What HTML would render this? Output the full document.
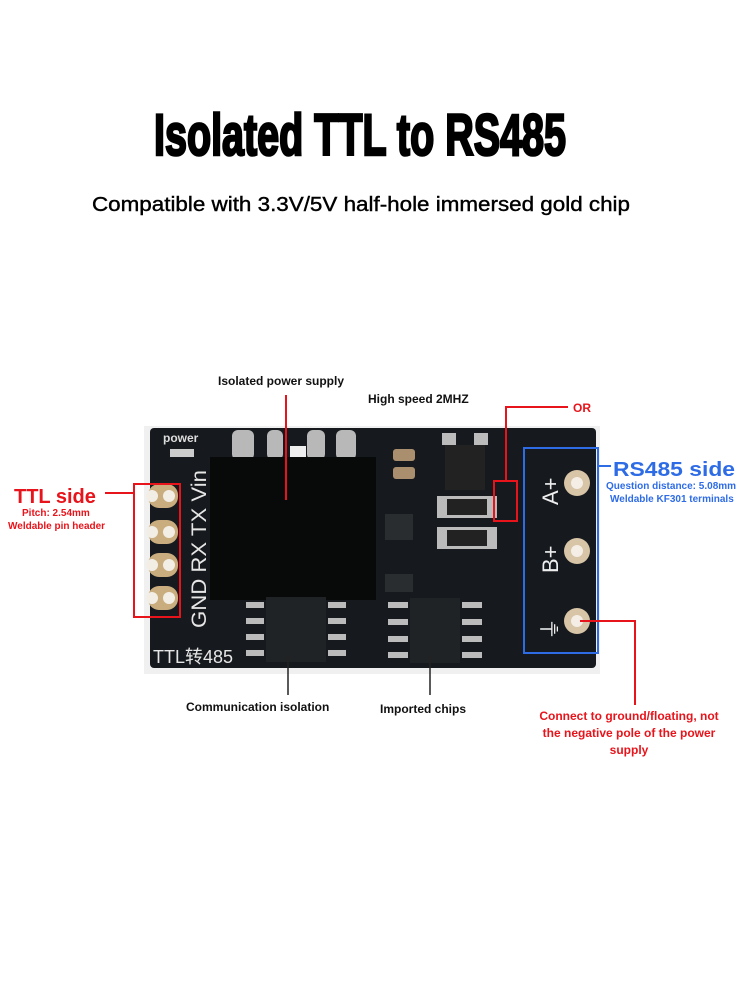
<!DOCTYPE html>
<html><head><meta charset="utf-8"><style>
html,body{margin:0;padding:0;background:#fff;width:750px;height:1000px;overflow:hidden}
svg{display:block}
text{font-family:"Liberation Sans",sans-serif}
</style></head><body>
<svg width="750" height="1000" viewBox="0 0 750 1000">
<rect width="750" height="1000" fill="#fff"/>
<text x="154" y="155" font-size="58" font-weight="bold" stroke="#000" stroke-width="2.6" textLength="412" lengthAdjust="spacingAndGlyphs">Isolated TTL to RS485</text>
<text x="92" y="211" font-size="20" stroke="#000" stroke-width="0.4" textLength="538" lengthAdjust="spacingAndGlyphs">Compatible with 3.3V/5V half-hole immersed gold chip</text>

<!-- board -->
<rect x="144" y="426" width="456" height="248" fill="#f0f0f0"/>
<rect x="150" y="428" width="446" height="240" rx="4" fill="#16191d"/>
<!-- ttl pads -->
<g fill="#c9ad7e">
<rect x="148" y="484" width="30" height="24" rx="11"/><rect x="148" y="520" width="30" height="24" rx="11"/>
<rect x="148" y="553" width="30" height="24" rx="11"/><rect x="148" y="586" width="30" height="24" rx="11"/>
</g>
<g fill="#f2eee6">
<circle cx="152" cy="496" r="6"/><circle cx="169" cy="496" r="6"/><circle cx="152" cy="532" r="6"/><circle cx="169" cy="532" r="6"/>
<circle cx="152" cy="565" r="6"/><circle cx="169" cy="565" r="6"/><circle cx="152" cy="598" r="6"/><circle cx="169" cy="598" r="6"/>
</g>
<text x="163" y="442" font-size="12" font-weight="bold" fill="#ddd">power</text>
<rect x="170" y="449" width="24" height="8" fill="#ccc"/>
<text transform="translate(206,628) rotate(-90)" font-size="21" fill="#e6e6e6" textLength="158" lengthAdjust="spacingAndGlyphs">GND RX TX Vin</text>
<text x="153" y="663" font-size="18" fill="#e6e6e6" font-family="'Liberation Sans','Noto Sans CJK SC',sans-serif">TTL转485</text>
<!-- transformer -->
<g fill="#b8b8b8"><rect x="232" y="430" width="22" height="30" rx="6"/><rect x="267" y="430" width="16" height="30" rx="6"/><rect x="307" y="430" width="18" height="30" rx="6"/><rect x="336" y="430" width="20" height="30" rx="6"/></g>
<rect x="290" y="446" width="16" height="20" fill="#eee"/>
<rect x="210" y="457" width="166" height="143" fill="#080909"/>
<!-- chips -->
<rect x="266" y="597" width="60" height="65" fill="#202326"/>
<rect x="410" y="598" width="50" height="65" fill="#202326"/>
<g fill="#bbb">
<rect x="246" y="602" width="18" height="6"/><rect x="246" y="618" width="18" height="6"/><rect x="246" y="634" width="18" height="6"/><rect x="246" y="650" width="18" height="6"/>
<rect x="328" y="602" width="18" height="6"/><rect x="328" y="618" width="18" height="6"/><rect x="328" y="634" width="18" height="6"/><rect x="328" y="650" width="18" height="6"/>
<rect x="388" y="602" width="20" height="6"/><rect x="388" y="619" width="20" height="6"/><rect x="388" y="636" width="20" height="6"/><rect x="388" y="652" width="20" height="6"/>
<rect x="462" y="602" width="20" height="6"/><rect x="462" y="619" width="20" height="6"/><rect x="462" y="636" width="20" height="6"/><rect x="462" y="652" width="20" height="6"/>
<rect x="442" y="433" width="14" height="12"/><rect x="474" y="433" width="14" height="12"/>
<rect x="437" y="496" width="60" height="22"/><rect x="437" y="527" width="60" height="22"/>
</g>
<g fill="#222"><rect x="445" y="445" width="40" height="45"/><rect x="447" y="499" width="40" height="16"/><rect x="447" y="530" width="40" height="16"/></g>
<g fill="#a98f6e"><rect x="393" y="449" width="22" height="12" rx="3"/><rect x="393" y="467" width="22" height="12" rx="3"/></g>
<rect x="385" y="514" width="28" height="26" fill="#2a2d30"/>
<rect x="385" y="574" width="28" height="18" fill="#2a2d30"/>
<!-- rs485 terminals -->
<g fill="#d8c4a6"><circle cx="577" cy="483" r="13"/><circle cx="577" cy="551" r="13"/><circle cx="577" cy="621" r="13"/></g>
<g fill="#f4eee6"><circle cx="577" cy="483" r="6"/><circle cx="577" cy="551" r="6"/><circle cx="577" cy="621" r="6"/></g>
<text transform="translate(558,505) rotate(-90)" font-size="22" fill="#eee">A+</text>
<text transform="translate(558,573) rotate(-90)" font-size="22" fill="#eee">B+</text>
<text transform="translate(558,640) rotate(-90)" font-size="22" fill="#eee">⏚</text>

<!-- annotations -->
<g fill="none" stroke-width="2">
<rect x="134" y="484" width="46" height="133" stroke="#e8141b"/>
<line x1="105" y1="493" x2="134" y2="493" stroke="#e8141b"/>
<rect x="524" y="448" width="74" height="205" stroke="#2e6ce6"/>
<line x1="598" y1="466" x2="611" y2="466" stroke="#2e6ce6"/>
<rect x="494" y="481" width="23" height="40" stroke="#e8141b"/>
<polyline points="506,481 506,407 568,407" stroke="#e8141b"/>
<line x1="286" y1="395" x2="286" y2="500" stroke="#e8141b"/>
<line x1="288" y1="655" x2="288" y2="695" stroke="#222" stroke-width="1.5"/>
<line x1="430" y1="655" x2="430" y2="695" stroke="#222" stroke-width="1.5"/>
<polyline points="580,621 635,621 635,705" stroke="#e8141b"/>
</g>
<text x="14" y="503" font-size="20" font-weight="bold" fill="#e8141b">TTL side</text>
<text x="22" y="516" font-size="10" font-weight="bold" fill="#e8141b">Pitch: 2.54mm</text>
<text x="8" y="529" font-size="10" font-weight="bold" fill="#e8141b">Weldable pin header</text>
<text x="613" y="476" font-size="20" font-weight="bold" fill="#2e6ce6" textLength="122" lengthAdjust="spacingAndGlyphs">RS485 side</text>
<text x="606" y="489" font-size="10" font-weight="bold" fill="#2e6ce6">Question distance: 5.08mm</text>
<text x="610" y="502" font-size="10" font-weight="bold" fill="#2e6ce6">Weldable KF301 terminals</text>
<text x="573" y="412" font-size="12" font-weight="bold" fill="#e8141b">OR</text>
<text x="218" y="385" font-size="12" font-weight="bold" fill="#111">Isolated power supply</text>
<text x="368" y="403" font-size="12" font-weight="bold" fill="#111">High speed 2MHZ</text>
<text x="186" y="711" font-size="12" font-weight="bold" fill="#111">Communication isolation</text>
<text x="380" y="713" font-size="12" font-weight="bold" fill="#111">Imported chips</text>
<g font-size="12" font-weight="bold" fill="#e8141b" text-anchor="middle">
<text x="629" y="720">Connect to ground/floating, not</text>
<text x="629" y="737">the negative pole of the power</text>
<text x="629" y="754">supply</text>
</g>
</svg>
</body></html>
